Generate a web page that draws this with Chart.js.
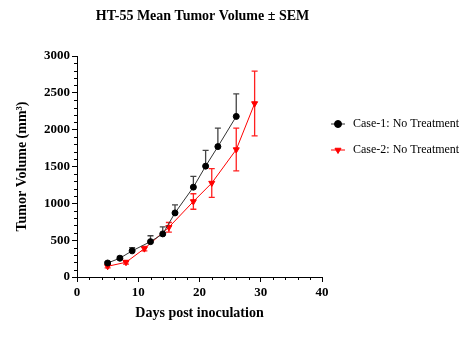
<!DOCTYPE html>
<html>
<head>
<meta charset="utf-8">
<script src="https://cdn.jsdelivr.net/npm/chart.js@4"></script>
<style>
    html, body { margin: 0; padding: 0; background: #ffffff; }
    #wrap { width: 460px; height: 344px; }
</style>
</head>
<body>
<div id="wrap"><canvas id="tumorChart" width="460" height="344"></canvas></div>
<script>
// Tumor volume data
const days1 = [5, 7, 9, 12, 14, 16, 19, 21, 23, 26];
const mean1 = [190, 255, 355, 480, 585, 870, 1220, 1505, 1770, 2180];
const sem1 = [20, 25, 45, 80, 95, 110, 145, 215, 250, 305];

const days2 = [5, 8, 11, 15, 19, 22, 26, 29];
const mean2 = [145, 200, 385, 675, 1025, 1275, 1730, 2355];
const sem2 = [20, 25, 30, 65, 105, 195, 290, 440];

const seriesLabels = ['Case-1: No Treatment', 'Case-2: No Treatment'];
const chartTitle = 'HT-55 Mean Tumor Volume \u00b1 SEM';
const xTicks = [0, 10, 20, 30, 40];
const yTicks = [0, 500, 1000, 1500, 2000, 2500, 3000];

const FONT = "'Liberation Serif', 'Times New Roman', serif";
Chart.defaults.font.family = FONT;
Chart.defaults.color = '#000000';

function toPoints(xs, ys) {
    return xs.map((x, i) => ({ x: x, y: ys[i] }));
}

// Title centred over the plot area (not the whole canvas)
const plotTitlePlugin = {
    id: 'plotTitle',
    afterDraw(chart) {
        const ctx = chart.ctx;
        const area = chart.chartArea;
        ctx.save();
        ctx.fillStyle = '#000000';
        ctx.font = 'bold 14px ' + FONT;
        ctx.textAlign = 'center';
        ctx.textBaseline = 'middle';
        ctx.fillText(chartTitle, (area.left + area.right) / 2 + 3, 16);
        ctx.restore();
    }
};

// Error bars: case 1 only upward, case 2 both ways
const errorBarPlugin = {
    id: 'errorBars',
    beforeDatasetsDraw(chart) {
        const ctx = chart.ctx;
        const xs = chart.scales.x;
        const ys = chart.scales.y;
        const sets = [
            { days: days1, mean: mean1, sem: sem1, color: '#444444', both: false },
            { days: days2, mean: mean2, sem: sem2, color: '#ff2020', both: true }
        ];
        ctx.save();
        ctx.lineWidth = 1.3;
        sets.forEach(s => {
            ctx.strokeStyle = s.color;
            s.days.forEach((d, i) => {
                const px = xs.getPixelForValue(d);
                const pm = ys.getPixelForValue(s.mean[i]);
                const pt = ys.getPixelForValue(s.mean[i] + s.sem[i]);
                const pb = s.both ? ys.getPixelForValue(s.mean[i] - s.sem[i]) : pm;
                ctx.beginPath();
                ctx.moveTo(px, pb);
                ctx.lineTo(px, pt);
                ctx.moveTo(px - 3, pt);
                ctx.lineTo(px + 3, pt);
                if (s.both) {
                    ctx.moveTo(px - 3, pb);
                    ctx.lineTo(px + 3, pb);
                }
                ctx.stroke();
            });
        });
        ctx.restore();
    }
};

// Minor tick marks on both axes
const minorTickPlugin = {
    id: 'minorTicks',
    afterDraw(chart) {
        const ctx = chart.ctx;
        const xs = chart.scales.x;
        const ys = chart.scales.y;
        const area = chart.chartArea;
        ctx.save();
        ctx.strokeStyle = '#000000';
        ctx.lineWidth = 1;
        ctx.beginPath();
        for (let v = 0; v <= 3000; v += 100) {
            if (v % 500 === 0) continue;
            const py = Math.round(ys.getPixelForValue(v)) + 0.5;
            ctx.moveTo(area.left, py);
            ctx.lineTo(area.left - 3, py);
        }
        for (let v = 0; v <= 40; v += 2) {
            if (v % 10 === 0) continue;
            const px = Math.round(xs.getPixelForValue(v)) + 0.5;
            ctx.moveTo(px, area.bottom);
            ctx.lineTo(px, area.bottom + 3);
        }
        ctx.stroke();
        ctx.restore();
    }
};

// Legend with line + marker symbols on the right
const sideLegendPlugin = {
    id: 'sideLegend',
    afterDraw(chart) {
        const ctx = chart.ctx;
        const area = chart.chartArea;
        const rows = [
            { y: area.top + 68, color: '#000000', line: '#333333', style: 'circle', rot: 0 },
            { y: area.top + 94, color: '#ff0000', line: '#ff0000', style: 'triangle', rot: 180 }
        ];
        ctx.save();
        rows.forEach((r, i) => {
            const x0 = area.right + 9;
            ctx.strokeStyle = r.line;
            ctx.lineWidth = 1;
            ctx.beginPath();
            ctx.moveTo(x0, r.y);
            ctx.lineTo(x0 + 14, r.y);
            ctx.stroke();
            ctx.fillStyle = r.color;
            ctx.strokeStyle = r.color;
            Chart.helpers.drawPoint(ctx, { pointStyle: r.style, radius: 3.5, rotation: r.rot, borderWidth: 1 }, x0 + 7, r.y);
            ctx.fillStyle = '#000000';
            ctx.font = '12px ' + FONT;
            ctx.textBaseline = 'middle';
            ctx.textAlign = 'left';
            ctx.fillText(seriesLabels[i], x0 + 22, r.y);
        });
        ctx.restore();
    }
};

const ctx = document.getElementById('tumorChart');

new Chart(ctx, {
    type: 'line',
    data: {
        datasets: [{
            label: seriesLabels[0],
            data: toPoints(days1, mean1),
            borderColor: '#333333',
            borderWidth: 1,
            pointStyle: 'circle',
            pointRadius: 3,
            pointBackgroundColor: '#000000',
            pointBorderColor: '#000000',
            tension: 0
        }, {
            label: seriesLabels[1],
            data: toPoints(days2, mean2),
            borderColor: '#ff0000',
            borderWidth: 1,
            pointStyle: 'triangle',
            pointRotation: 180,
            pointRadius: 3.5,
            pointBackgroundColor: '#ff0000',
            pointBorderColor: '#ff0000',
            tension: 0
        }]
    },
    options: {
        responsive: false,
        animation: false,
        layout: {
            padding: { left: 0, right: 138, top: 56, bottom: 7 }
        },
        plugins: {
            legend: { display: false },
            tooltip: { enabled: false },
            title: { display: false }
        },
        scales: {
            x: {
                type: 'linear',
                min: 0,
                max: 40,
                afterFit: (scale) => { scale.height = 60; },
                afterBuildTicks: (scale) => { scale.ticks = xTicks.map(v => ({ value: v })); },
                grid: {
                    display: true,
                    drawOnChartArea: false,
                    drawTicks: true,
                    tickLength: 5,
                    color: '#000000'
                },
                border: { display: true, color: '#000000', width: 1 },
                ticks: {
                    color: '#000000',
                    padding: 3,
                    maxRotation: 0,
                    callback: (v) => String(v),
                    font: { family: FONT, size: 13, weight: 'bold' }
                },
                title: {
                    display: true,
                    text: 'Days post inoculation',
                    color: '#000000',
                    font: { family: FONT, size: 14, weight: 'bold' },
                    padding: { top: 4, bottom: 15 }
                }
            },
            y: {
                type: 'linear',
                min: 0,
                max: 3000,
                afterFit: (scale) => { scale.width = 77; },
                afterBuildTicks: (scale) => { scale.ticks = yTicks.map(v => ({ value: v })); },
                grid: {
                    display: true,
                    drawOnChartArea: false,
                    drawTicks: true,
                    tickLength: 5,
                    color: '#000000'
                },
                border: { display: true, color: '#000000', width: 1 },
                ticks: {
                    color: '#000000',
                    padding: 2,
                    callback: (v) => String(v),
                    font: { family: FONT, size: 13, weight: 'bold' }
                },
                title: {
                    display: true,
                    text: 'Tumor Volume (mm\u00b3)',
                    color: '#000000',
                    font: { family: FONT, size: 14, weight: 'bold' },
                    padding: { top: 14, bottom: 0 }
                }
            }
        }
    },
    plugins: [plotTitlePlugin, errorBarPlugin, minorTickPlugin, sideLegendPlugin]
});
</script>
</body>
</html>
